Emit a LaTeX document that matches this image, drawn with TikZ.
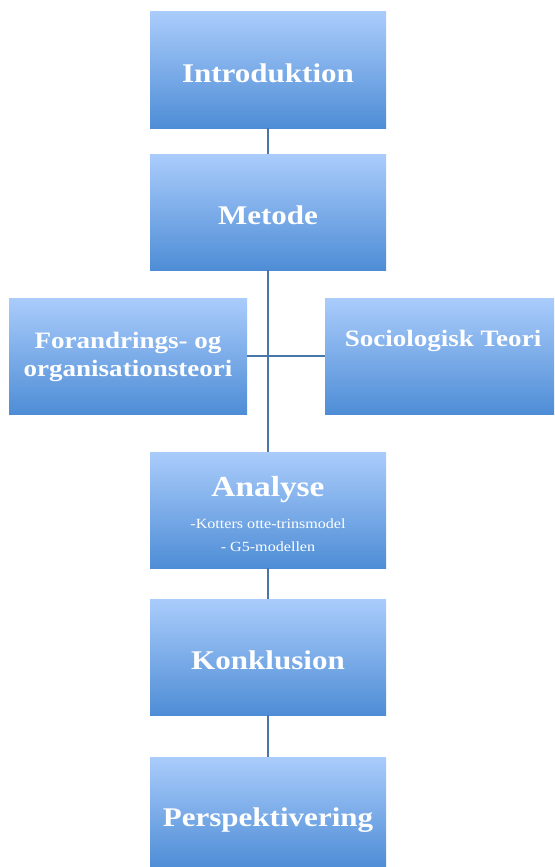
\documentclass[tikz,border=0pt]{standalone}
\usepackage{fontspec}
\setmainfont{Liberation Serif}[FakeStretch=1.15]
\begin{document}
\begin{tikzpicture}[x=1pt,y=-1pt,
  box/.style={rectangle, inner sep=0pt, top color=boxtop, bottom color=boxbot, draw=none},
  lbl/.style={text=white, inner sep=0pt, align=center},
  link/.style={draw=linkc, line width=2.4pt}]
\definecolor{boxtop}{RGB}{170,204,251}
\definecolor{boxbot}{RGB}{78,141,214}
\definecolor{linkc}{RGB}{72,118,168}
\path[use as bounding box] (0,0) rectangle (554,867);
\node[box, minimum width=236pt, minimum height=116pt] (intro) at (268,70) {};
\node[box, minimum width=236pt, minimum height=116pt] (metode) at (268,212) {};
\node[box, minimum width=238pt, minimum height=116pt] (forand) at (128,356) {};
\node[box, minimum width=229pt, minimum height=116pt] (socio) at (439.5,356) {};
\node[box, minimum width=236pt, minimum height=116pt] (analyse) at (268,510) {};
\node[box, minimum width=236pt, minimum height=116pt] (konkl) at (268,657) {};
\node[box, minimum width=236pt, minimum height=110pt] (persp) at (268,812) {};
\draw[link] (intro.south) -- (metode.north);
\draw[link] (metode.south) -- (analyse.north);
\draw[link] (forand.east) -- (socio.west);
\draw[link] (analyse.south) -- (konkl.north);
\draw[link] (konkl.south) -- (persp.north);
\node[lbl, font=\bfseries\fontsize{27}{30}\selectfont] (t1) at (268,73) {Introduktion};
\node[lbl, font=\bfseries\fontsize{27}{30}\selectfont] (t2) at (268,215) {Metode};
\node[lbl, font=\bfseries\fontsize{23.5}{28}\selectfont] (t3) at (128,357) {Forandrings- og\\organisationsteori};
\node[lbl, font=\bfseries\fontsize{23.5}{28}\selectfont] (t4) at (443,341) {Sociologisk Teori};
\node[lbl, font=\bfseries\fontsize{29}{32}\selectfont] (t5) at (268,490) {Analyse};
\node[lbl, font=\fontsize{14}{23}\selectfont] (t6) at (268,535) {-Kotters otte-trinsmodel\\- G5-modellen};
\node[lbl, font=\bfseries\fontsize{27}{30}\selectfont] (t7) at (268,660) {Konklusion};
\node[lbl, font=\bfseries\fontsize{27}{30}\selectfont] (t8) at (268,820) {Perspektivering};
\end{tikzpicture}
\end{document}
